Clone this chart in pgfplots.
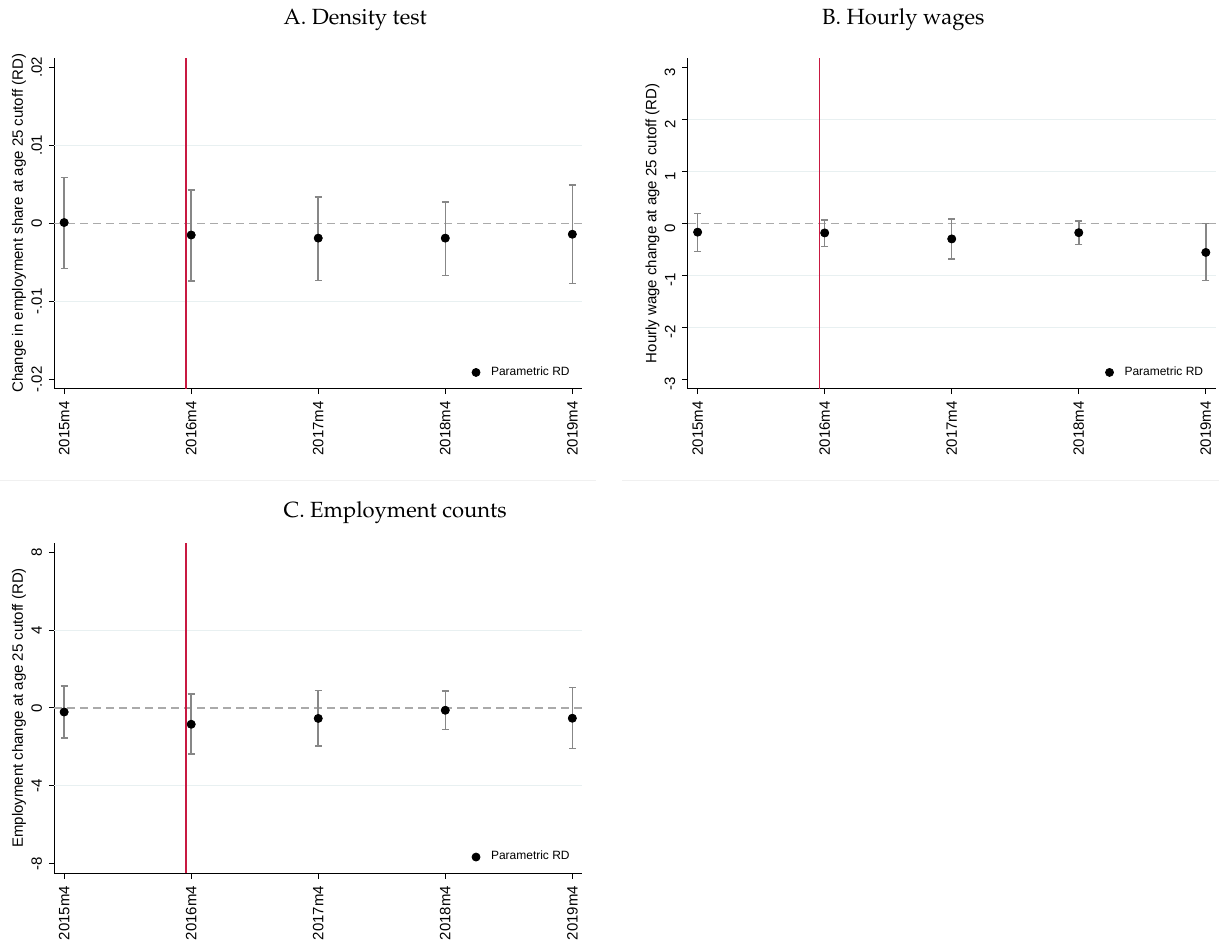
\documentclass[border=0pt]{standalone}
\usepackage[T1]{fontenc}
\usepackage{fontspec}
\setmainfont{Liberation Sans}
\usepackage{pgfplots}
\pgfplotsset{compat=1.18}
\usepackage{pgfplotstable}

\newcommand\titlefont{\fontencoding{T1}\fontfamily{ppl}\fontsize{11}{13}\selectfont}
\newcommand\tickfont{\fontsize{7.5}{9}\selectfont}

\definecolor{gridc}{RGB}{232,240,241}
\definecolor{zeroc}{RGB}{170,170,170}
\definecolor{redl}{RGB}{200,25,65}
\definecolor{ebar}{RGB}{135,135,135}

\pgfplotstableread{
x y lo hi
0 0.0001 -0.0058 0.0059
12 -0.0015 -0.0074 0.0043
24 -0.0019 -0.0073 0.0034
36 -0.0019 -0.0067 0.0027
48 -0.0014 -0.0077 0.0049
}\dataA

\pgfplotstableread{
x y lo hi
0 -0.17 -0.54 0.19
12 -0.185 -0.45 0.065
24 -0.30 -0.69 0.085
36 -0.18 -0.41 0.046
48 -0.56 -1.10 -0.005
}\dataB

\pgfplotstableread{
x y lo hi
0 -0.21 -1.55 1.13
12 -0.84 -2.37 0.72
24 -0.54 -1.96 0.89
36 -0.12 -1.11 0.86
48 -0.53 -2.08 1.05
}\dataC

\pgfplotsset{
  panel/.style={
    scale only axis, width=264pt, height=165.5pt,
    xmin=-0.915, xmax=48.915,
    axis lines=left,
    every outer x axis line/.append style={-},
    every outer y axis line/.append style={-},
    axis line style={-, black, line width=0.5pt},
    tick align=outside, major tick length=2.75pt,
    tick style={black, line width=0.5pt},
    xtick={0,12,24,36,48},
    xticklabels={2015m4,2016m4,2017m4,2018m4,2019m4},
    xticklabel style={rotate=90, anchor=east, font=\tickfont},
    yticklabel style={rotate=90, anchor=south, font=\tickfont},
    scaled y ticks=false,
    ylabel style={font=\tickfont, at={(axis description cs:-0.067,0.5)}, anchor=center},
    legend style={at={(rel axis cs:1,0)}, anchor=south east, draw=none, fill=none,
      font=\fontsize{6}{7}\selectfont, xshift=-1pt, yshift=1pt},
    legend cell align=left,
    clip=false,
  },
  ebars/.style={only marks, mark=none, ebar, forget plot,
    error bars/.cd, y dir=both, y explicit,
    error bar style={ebar, line width=0.75pt, solid},
    error mark options={rotate=90, ebar, mark size=1.75pt, line width=0.75pt}},
  pts/.style={only marks, mark=*, mark size=2pt, black, mark options={black, fill=black}},
  redline/.style={redl, line width=0.7pt, forget plot},
}

\begin{document}
\begin{tikzpicture}
\path (0,0) rectangle (609.5pt,470pt);
\draw[gray!12, line width=0.5pt] (0pt,229.5pt) -- (298pt,229.5pt);
\draw[gray!12, line width=0.5pt] (311pt,229.5pt) -- (609.5pt,229.5pt);

% Panel A
\begin{axis}[panel, at={(27pt,275.5pt)}, anchor=south west,
  ymin=-0.0212, ymax=0.0212,
  ytick={-0.02,-0.01,0,0.01,0.02},
  yticklabels={-.02,-.01,0,.01,.02},
  ylabel={Change in employment share at age 25 cutoff (RD)}]
\addplot[gridc, line width=0.6pt, forget plot] coordinates {(-0.915,0.01) (48.915,0.01)};
\addplot[gridc, line width=0.6pt, forget plot] coordinates {(-0.915,-0.01) (48.915,-0.01)};
\addplot[zeroc, line width=0.7pt, dash pattern=on 4pt off 2.5pt, forget plot] coordinates {(-0.915,0) (48.915,0)};
\addplot[redline] coordinates {(11.5,-0.0212) (11.5,0.0212)};
\addplot[ebars] table[x=x, y=y, y error plus expr=\thisrow{hi}-\thisrow{y}, y error minus expr=\thisrow{y}-\thisrow{lo}] {\dataA};
\addplot[pts] table[x=x, y=y] {\dataA};
\addlegendentry{\hspace{3.5pt}Parametric RD}
\end{axis}

% Panel B
\begin{axis}[panel, at={(344pt,275.5pt)}, anchor=south west,
  ymin=-3.18, ymax=3.18,
  ytick={-3,-2,-1,0,1,2,3},
  yticklabels={-3,-2,-1,0,1,2,3},
  yticklabel style={xshift=-2.5pt},
  ylabel={Hourly wage change at age 25 cutoff (RD)}]
\addplot[gridc, line width=0.6pt, forget plot] coordinates {(-0.915,1) (48.915,1)};
\addplot[gridc, line width=0.6pt, forget plot] coordinates {(-0.915,2) (48.915,2)};
\addplot[gridc, line width=0.6pt, forget plot] coordinates {(-0.915,-1) (48.915,-1)};
\addplot[gridc, line width=0.6pt, forget plot] coordinates {(-0.915,-2) (48.915,-2)};
\addplot[zeroc, line width=0.7pt, dash pattern=on 4pt off 2.5pt, forget plot] coordinates {(-0.915,0) (48.915,0)};
\addplot[redline] coordinates {(11.5,-3.18) (11.5,3.18)};
\addplot[ebars] table[x=x, y=y, y error plus expr=\thisrow{hi}-\thisrow{y}, y error minus expr=\thisrow{y}-\thisrow{lo}] {\dataB};
\addplot[pts] table[x=x, y=y] {\dataB};
\addlegendentry{\hspace{3.5pt}Parametric RD}
\end{axis}

% Panel C
\begin{axis}[panel, at={(27pt,33pt)}, anchor=south west,
  ymin=-8.5, ymax=8.5,
  ytick={-8,-4,0,4,8},
  yticklabels={-8,-4,0,4,8},
  ylabel={Employment change at age 25 cutoff (RD)}]
\addplot[gridc, line width=0.6pt, forget plot] coordinates {(-0.915,4) (48.915,4)};
\addplot[gridc, line width=0.6pt, forget plot] coordinates {(-0.915,-4) (48.915,-4)};
\addplot[zeroc, line width=0.7pt, dash pattern=on 4pt off 2.5pt, forget plot] coordinates {(-0.915,0) (48.915,0)};
\addplot[redline] coordinates {(11.5,-8.5) (11.5,8.5)};
\addplot[ebars] table[x=x, y=y, y error plus expr=\thisrow{hi}-\thisrow{y}, y error minus expr=\thisrow{y}-\thisrow{lo}] {\dataC};
\addplot[pts] table[x=x, y=y] {\dataC};
\addlegendentry{\hspace{3.5pt}Parametric RD}
\end{axis}

\node[anchor=west, inner sep=0pt] at (141.5pt,460pt) {\titlefont A. Density test};
\node[anchor=west, inner sep=0pt] at (411pt,460pt) {\titlefont B. Hourly wages};
\node[anchor=west, inner sep=0pt] at (141.5pt,213.5pt) {\titlefont C. Employment counts};
\end{tikzpicture}
\end{document}
